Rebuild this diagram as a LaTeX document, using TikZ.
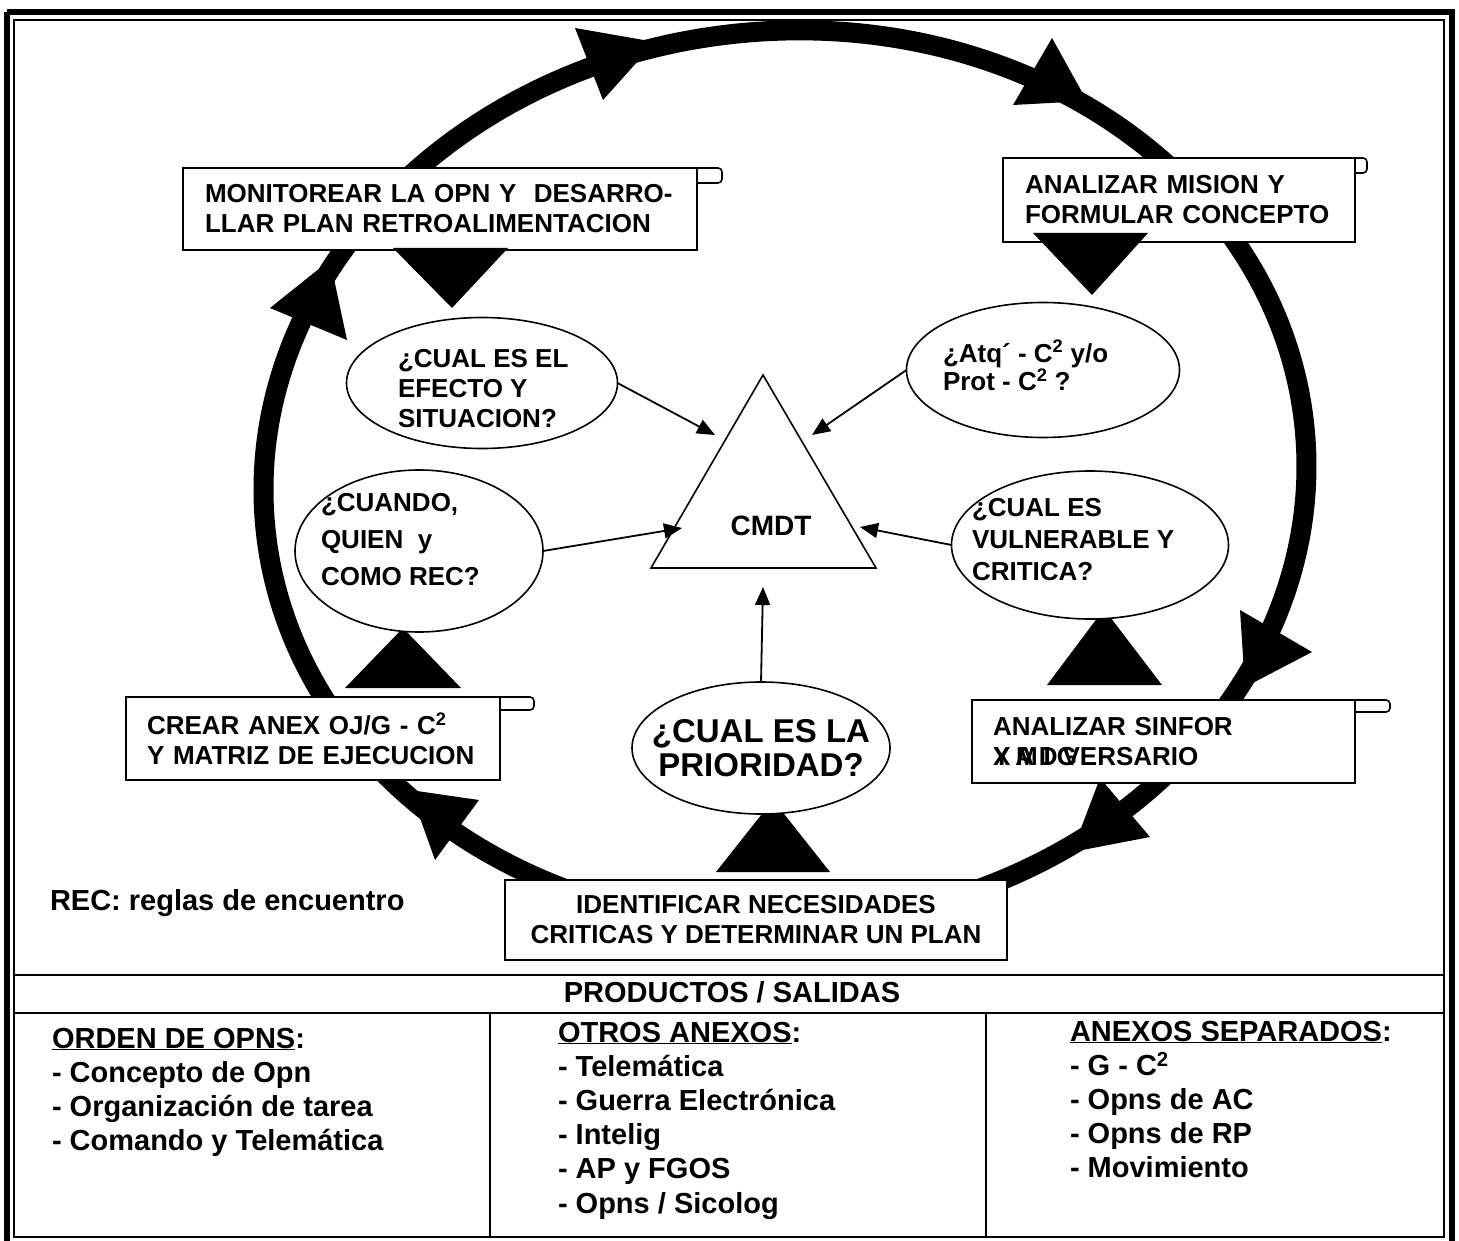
\documentclass[tikz,border=0pt]{standalone}
\usepackage{fontspec}
\usepackage{graphicx}
\setmainfont{Liberation Sans}
\usetikzlibrary{arrows.meta,shapes.geometric}

\newcommand{\sqr}{\textsuperscript{2}}
\newcommand{\txtlines}[1]{\parbox[t]{430pt}{\raggedright #1}}

\begin{document}
\begin{tikzpicture}[x=1pt,y=-1pt,
  every node/.style={inner sep=0pt, outer sep=0pt},
  upper/.style={font=\bfseries\fontsize{26}{30}\selectfont},
  lower/.style={font=\bfseries\fontsize{29}{34.2}\selectfont},
  stepbox/.style={draw, line width=1.6pt, fill=white, upper, align=left},
  qell/.style={ellipse, draw, line width=1.6pt, fill=white},
  tab/.style={draw, line width=1.6pt, fill=white, rounded corners=4pt},
  feed/.style={line width=1.8pt, -{Triangle[length=18pt,width=15pt]}},
  ring/.style={line width=20pt},
  thinrule/.style={line width=1.8pt},
]
\useasboundingbox (0,0) rectangle (1459,1241);
\fill[white] (0,0) rectangle (1459,1241);

% double frame and table rules
\draw[line width=6.5pt] (7,12) -- (1452,12) -- (1452,1244) (7,1244) -- (7,12);
\draw[thinrule] (14,20) rectangle (1444,1237);
\draw[thinrule] (14,975) -- (1444,975);
\draw[thinrule] (14,1013) -- (1444,1013);
\draw[thinrule] (490,1013) -- (490,1237);
\draw[thinrule] (986,1013) -- (986,1237);

% the planning cycle
\coordinate (hub) at (785,478);
\draw[ring, rotate around={5:(hub)}] (hub) ellipse [x radius=522, y radius=447];

% arrowheads along the cycle
\fill (575,28) -- (603,100) -- (655,42) -- cycle;
\fill (1052,38) -- (1013,105) -- (1087,101) -- cycle;
\fill (1240,610) -- (1312,652) -- (1245,687) -- cycle;
\fill (1100,778) -- (1150,837) -- (1072,852) -- cycle;
\fill (479,800) -- (435,860) -- (410,790) -- cycle;
\fill (270,308) -- (347,340) -- (330,260) -- cycle;

% step boxes with their tabs
\draw[tab] (697,168) -- (722,168) -- (722,183) -- (697,183);
\draw[tab] (1355,158) -- (1367,158) -- (1367,173) -- (1355,173);
\draw[tab] (1355,700) -- (1390,700) -- (1390,712) -- (1355,712);
\draw[tab] (500,697) -- (534,697) -- (534,710) -- (500,710);

\node[stepbox, inner xsep=22pt, text width=470pt, minimum height=82pt] (monitor) at (440,209)
  {MONITOREAR LA OPN Y\ \ DESARRO-\\LLAR PLAN RETROALIMENTACION};
\node[stepbox, inner xsep=22pt, text width=308pt, minimum height=84pt] (mision) at (1179,200)
  {ANALIZAR MISION Y\\FORMULAR CONCEPTO};
\node[stepbox, inner xsep=21pt, text width=341pt, minimum height=83pt] (sinfor) at (1163.5,741.5)
  {ANALIZAR SINFOR\\\leavevmode\rlap{\makebox[84pt][s]{X\hfil M\hfil I\hfil G}}\makebox[87pt][s]{Y\hfil A\hfil D\hfil V}ERSARIO};
\node[stepbox, inner xsep=21pt, text width=332pt, minimum height=83pt] (crear) at (313,738.5)
  {CREAR ANEX OJ/G - C\sqr\\Y MATRIZ DE EJECUCION};
\node[stepbox, align=center, minimum width=502pt, minimum height=80pt] (identif) at (756,920)
  {IDENTIFICAR NECESIDADES\\CRITICAS Y DETERMINAR UN PLAN};

% solid pointers from the steps to the questions
\fill (393,248) -- (508,248) -- (452,308) -- cycle;
\fill (1033,233) -- (1148,233) -- (1092,295) -- cycle;
\fill (345,688) -- (461,688) -- (403,628) -- cycle;
\fill (1047,685) -- (1162,685) -- (1104,609) -- cycle;
\fill (716,872) -- (830,872) -- (773,800) -- cycle;

% questions
\node[qell, minimum width=271pt, minimum height=131pt] (efecto) at (482,383) {};
\node[upper, anchor=base west] (efectotxt) at (398,367)
  {\txtlines{¿CUAL ES EL\\EFECTO Y\\SITUACION?}};
\node[qell, minimum width=273pt, minimum height=135pt] (atq) at (1043,370) {};
\node[upper, anchor=base west] (atqtxt) at (943,362)
  {\parbox[t]{300pt}{\baselineskip=27pt\raggedright ¿Atq´ - C\sqr{} y/o\\Prot - C\sqr{} ?}};
\node[qell, minimum width=248pt, minimum height=162pt] (cuando) at (419,551) {};
\node[upper, anchor=base west] (cuandotxt) at (321,511)
  {\parbox[t]{300pt}{\baselineskip=37pt\raggedright ¿CUANDO,\\QUIEN\ \ y\\COMO REC?}};
\node[qell, minimum width=277pt, minimum height=148pt] (vulner) at (1090,545) {};
\node[upper, anchor=base west] (vulnertxt) at (972,516)
  {\parbox[t]{300pt}{\baselineskip=32pt\raggedright ¿CUAL ES\\VULNERABLE Y\\CRITICA?}};
\node[qell, minimum width=258pt, minimum height=132pt] (prior) at (761,748) {};
\node[font=\bfseries\fontsize{33}{34}\selectfont, align=center] (priortxt) at (761,748)
  {¿CUAL ES LA\\PRIORIDAD?};

% commander
\draw[line width=1.6pt, fill=white] (763,375) -- (651,568) -- (876,568) -- cycle;
\node[font=\bfseries\fontsize{28}{32}\selectfont, anchor=base] (cmdt) at (771,535) {CMDT};
\coordinate (inA) at (715,435);
\coordinate (inB) at (812,435);
\coordinate (inC) at (682,528);
\coordinate (inD) at (860,527);
\coordinate (inE) at (763,587);
\draw[feed] (efecto.east) -- (inA);
\draw[feed] (atq.west) -- (inB);
\draw[feed] (cuando.east) -- (inC);
\draw[feed] (vulner.west) -- (inD);
\draw[feed] (prior.north) -- (inE);

% notes and products
\node[lower, anchor=base west] (rec) at (50,910) {REC: reglas de encuentro};
\node[lower, anchor=base] (prod) at (732,1002) {PRODUCTOS / SALIDAS};
\node[lower, anchor=base west] (orden) at (52,1048)
  {\txtlines{\underline{ORDEN DE OPNS}:\\- Concepto de Opn\\- Organización de tarea\\- Comando y Telemática}};
\node[lower, anchor=base west] (otros) at (558,1042)
  {\txtlines{\underline{OTROS ANEXOS}:\\- Telemática\\- Guerra Electrónica\\- Intelig\\- AP y FGOS\\- Opns / Sicolog}};
\node[lower, anchor=base west] (separ) at (1070,1041)
  {\txtlines{\underline{ANEXOS SEPARADOS}:\\- G - C\sqr\\- Opns de AC\\- Opns de RP\\- Movimiento}};
\end{tikzpicture}
\end{document}
